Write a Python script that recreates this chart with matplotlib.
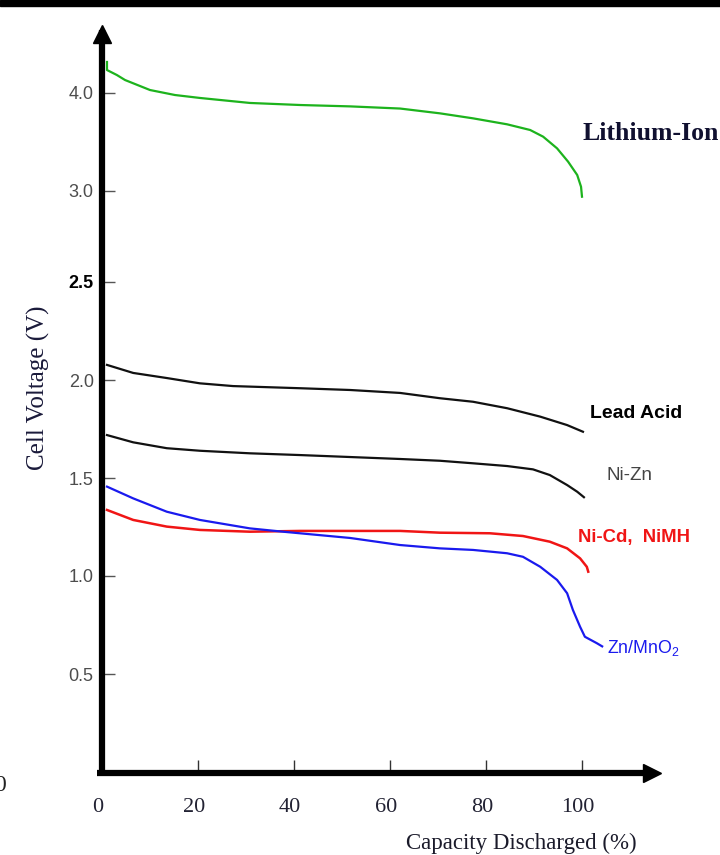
import numpy as np
import matplotlib
matplotlib.use('Agg')
import matplotlib.pyplot as plt
from matplotlib.patches import Rectangle
from matplotlib.transforms import ScaledTranslation

plt.rcParams['mathtext.fontset'] = 'custom'
plt.rcParams['mathtext.rm'] = 'Liberation Sans'
plt.rcParams['mathtext.it'] = 'Liberation Sans'
plt.rcParams['mathtext.default'] = 'rm'

# discharge curves (x = capacity %, y = volts)
li_x = [1.04, 1.04, 3.1, 4.8, 10.0, 15.2, 20.4, 30.8, 41.3, 51.7, 62.1, 70.4, 77.3, 84.4, 89.2, 91.9,
        94.8, 97.1, 99.0, 99.8, 100.0]
li_v = [4.315, 4.233, 4.182, 4.131, 4.029, 3.978, 3.948, 3.897, 3.876, 3.862, 3.84, 3.791, 3.740, 3.679,
        3.621, 3.553, 3.434, 3.298, 3.162, 3.042, 2.968]

lead_x = [1.04, 6.5, 13.5, 20.4, 27.3, 41.3, 51.7, 62.1, 70.4, 77.3, 84.4, 91.3, 96.9, 100.2]
lead_v = [2.077, 2.036, 2.010, 1.983, 1.969, 1.958, 1.949, 1.934, 1.907, 1.889, 1.856, 1.813, 1.770, 1.736]

nizn_x = [1.04, 6.5, 13.5, 20.4, 30.8, 41.3, 51.7, 62.1, 70.4, 77.3, 84.4, 89.8, 93.3, 96.9, 99.0, 100.4]
nizn_v = [1.719, 1.682, 1.652, 1.639, 1.626, 1.617, 1.607, 1.597, 1.588, 1.575, 1.561, 1.544, 1.515,
          1.464, 1.430, 1.402]

nicd_x = [1.04, 6.5, 13.5, 20.4, 30.8, 41.3, 62.1, 70.4, 80.8, 87.7, 93.3, 96.9, 99.6, 101.0, 101.3]
nicd_v = [1.337, 1.286, 1.252, 1.235, 1.226, 1.230, 1.230, 1.221, 1.218, 1.204, 1.175, 1.141, 1.090,
          1.047, 1.022]

zn_x = [1.04, 6.5, 13.5, 20.4, 30.8, 37.7, 51.7, 62.1, 70.4, 77.3, 84.4, 87.7, 91.3, 94.8, 96.9, 98.1,
        99.6, 100.6, 103.1, 104.2]
zn_v = [1.456, 1.396, 1.328, 1.286, 1.243, 1.226, 1.194, 1.158, 1.141, 1.133, 1.116, 1.098, 1.047, 0.980,
        0.912, 0.827, 0.741, 0.690, 0.657, 0.641]

x_ticks = [0, 20, 40, 60, 80, 100]
y_ticks = [0.5, 1.0, 1.5, 2.0, 2.5, 3.0, 4.0]
y_labels = ['0.5', '1.0', '1.5', '2.0', '2.5', '3.0', '4.0']

# the original axis is not linear: 3.0 and 4.0 sit one step apart like the 0.5 steps
knot_v = [0.0, 0.5, 1.0, 1.5, 2.0, 2.5, 3.0, 4.0, 6.0]
knot_s = [0.0, 1.0, 2.0, 3.0, 4.0, 5.0, 5.93, 6.93, 8.93]


def forward(v):
    return np.interp(v, knot_v, knot_s)


def inverse(s):
    return np.interp(s, knot_s, knot_v)


fig = plt.figure(figsize=(7.2, 8.55), dpi=100)
W, H = 720, 855
left, right, bottom, top = 102, 662, 772, 25
ax = fig.add_axes([left / W, (H - bottom) / H, (right - left) / W, (bottom - top) / H])
ax.set_yscale('function', functions=(forward, inverse))
ax.set_xlim(0, (right - left) / 4.8)
ax.set_ylim(0, inverse((bottom - top) / 98))

for s in ax.spines.values():
    s.set_visible(False)

# curves
ax.plot(li_x, li_v, color='#1db31d', lw=1.6)
ax.plot(lead_x, lead_v, color='#111111', lw=1.6)
ax.plot(nizn_x, nizn_v, color='#111111', lw=1.6)
ax.plot(nicd_x, nicd_v, color='#f01515', lw=1.8)
ax.plot(zn_x, zn_v, color='#1a1aee', lw=1.6)

# axis lines with arrow heads
ax.plot([0, 0], [-0.004, (bottom - 30) / (bottom - top)], color='black', lw=4.5,
        transform=ax.transAxes, clip_on=False, solid_capstyle='butt')
ax.plot([0], [(bottom - 34) / (bottom - top)], marker='^', ms=13, color='black',
        transform=ax.transAxes, clip_on=False)
ax.plot([(97 - left) / (right - left), (650 - left) / (right - left)], [-0.002, -0.002], color='black', lw=4.5,
        transform=ax.transAxes, clip_on=False, solid_capstyle='butt')
ax.plot([(652 - left) / (right - left)], [-0.002], marker='>', ms=13, color='black',
        transform=ax.transAxes, clip_on=False)

# ticks
ax.set_xticks(x_ticks)
ax.set_xticklabels([str(t) for t in x_ticks], family='Liberation Serif', fontsize=16, color='#222233')
ax.tick_params(axis='x', direction='in', length=9, width=1, color='#333333', pad=19)
shift = ScaledTranslation(-4 / 100, 0, fig.dpi_scale_trans)
for lab in ax.get_xticklabels():
    lab.set_transform(lab.get_transform() + shift)

ax.set_yticks(y_ticks)
ax.set_yticklabels(y_labels, family='Liberation Sans', fontsize=13, color='#4d4d4d')
ax.tick_params(axis='y', direction='in', length=9, width=1, color='#555555', pad=6)
ax.minorticks_off()
for lab in ax.get_yticklabels():
    if lab.get_text() == '2.5':
        lab.set_color('black')
        lab.set_fontweight('bold')

ax.set_ylabel('Cell Voltage (V)', family='Liberation Serif', fontsize=18, color='#1a1a3a',
              ha='center', va='center')
ax.yaxis.set_label_coords(-(left - 38) / (right - left), (bottom - 388) / (bottom - top))
ax.set_xlabel('Capacity Discharged (%)', family='Liberation Serif', fontsize=16.5, color='#1a1a2a',
              ha='center', va='center')
ax.xaxis.set_label_coords((521 - left) / (right - left), -(843 - bottom) / (bottom - top))

# curve labels
ax.text(100.2, 3.59, 'Lithium-Ion', family='Liberation Serif', fontweight='bold', fontsize=18.5,
        color='#101030', va='center', ha='left', clip_on=False)
ax.text(101.7, 1.83, 'Lead Acid', family='Liberation Sans', fontweight='bold', fontsize=14,
        color='black', va='center', ha='left', clip_on=False)
ax.text(105.2, 1.515, 'Ni-Zn', family='Liberation Sans', fontsize=13.5,
        color='#444444', va='center', ha='left', clip_on=False)
ax.text(99.2, 1.194, 'Ni-Cd,  NiMH', family='Liberation Sans', fontweight='bold', fontsize=13.3,
        color='#f01515', va='center', ha='left', clip_on=False)
ax.text(105.2, 0.633, 'Zn/MnO$_2$', family='Liberation Sans', fontsize=12.8,
        color='#1a1aee', va='center', ha='left', clip_on=False)

# scan artefacts: black band on top and a clipped "0" on the left edge
fig.patches.append(Rectangle((0, 1 - 6 / H), 1, 6 / H, transform=fig.transFigure, color='black'))
fig.text(0 / W, 1 - 785 / H, '0', family='Liberation Serif', fontsize=17, ha='center', va='center', color='#222222')

fig.savefig('out.png', dpi=100)
